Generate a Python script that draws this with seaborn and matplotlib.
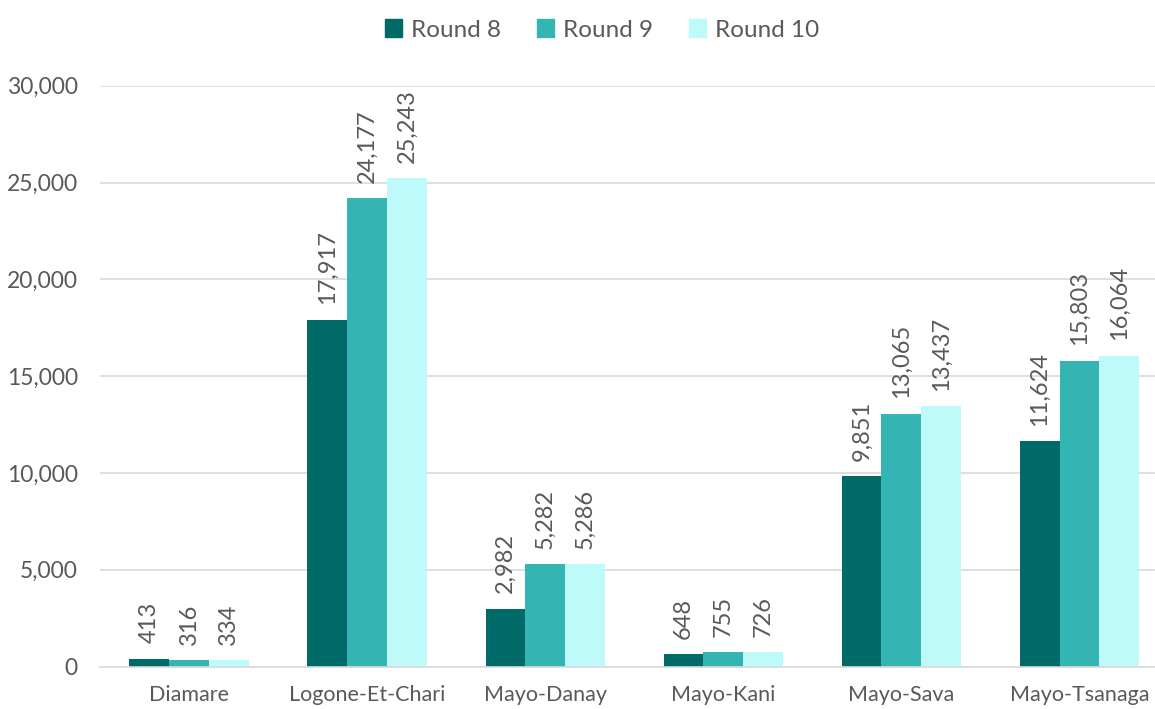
import matplotlib
matplotlib.use("Agg")
import matplotlib.pyplot as plt
import seaborn as sns
import pandas as pd
from matplotlib.ticker import FuncFormatter, MultipleLocator

# Displaced persons by department and assessment round
departments = ["Diamare", "Logone-Et-Chari", "Mayo-Danay", "Mayo-Kani", "Mayo-Sava", "Mayo-Tsanaga"]
rounds = ["Round 8", "Round 9", "Round 10"]
round8 = [413, 17917, 2982, 648, 9851, 11624]
round9 = [316, 24177, 5282, 755, 13065, 15803]
round10 = [334, 25243, 5286, 726, 13437, 16064]
colors = ["#006A69", "#35B4B4", "#BFFAFA"]

df = pd.DataFrame({
    "Department": departments * 3,
    "Round": [r for r in rounds for _ in departments],
    "Value": round8 + round9 + round10,
})

sns.set_theme(style="white")
plt.rcParams["font.family"] = ["Lato", "DejaVu Sans"]
text_color = "#595959"

W, H = 1155, 709
fig = plt.figure(figsize=(W / 100, H / 100), dpi=100)
left, right, top, bottom = 100, 1168.5, 85.7, 666.5
ax = fig.add_axes([left / W, 1 - bottom / H, (right - left) / W, (bottom - top) / H])

sns.barplot(data=df, x="Department", y="Value", hue="Round", hue_order=rounds,
            palette=colors, width=0.67, saturation=1, linewidth=0, ax=ax, legend=False)

ax.set_ylim(0, 30000)
ax.set_xlim(-0.5, len(departments) - 0.5)
ax.yaxis.set_major_locator(MultipleLocator(5000))
ax.yaxis.set_major_formatter(FuncFormatter(lambda v, p: f"{int(v):,}"))
ax.grid(axis="y", color="#D9D9D9", linewidth=1.2)
ax.set_axisbelow(True)
for s in ["top", "right", "left"]:
    ax.spines[s].set_visible(False)
ax.spines["bottom"].set_color("#D9D9D9")
ax.spines["bottom"].set_linewidth(1.2)
ax.set_xlabel("")
ax.set_ylabel("")
ax.tick_params(axis="y", length=0, pad=16, labelsize=16.5, labelcolor=text_color)
ax.tick_params(axis="x", length=0, pad=13, labelsize=15.5, labelcolor=text_color)

for cont in ax.containers:
    ax.bar_label(cont, labels=[f"{int(v):,}" for v in cont.datavalues],
                 rotation=90, padding=11, fontsize=17, color=text_color)

handles = [plt.Rectangle((0, 0), 1, 1, color=c) for c in colors]
fig.legend(handles, rounds, loc="center", bbox_to_anchor=(602 / W, 1 - 30 / H), ncol=3,
           frameon=False, fontsize=17.5, labelcolor=text_color, handlelength=0.7,
           handleheight=0.7, handletextpad=0.35, columnspacing=1.5)

fig.savefig("out.png", dpi=100)
